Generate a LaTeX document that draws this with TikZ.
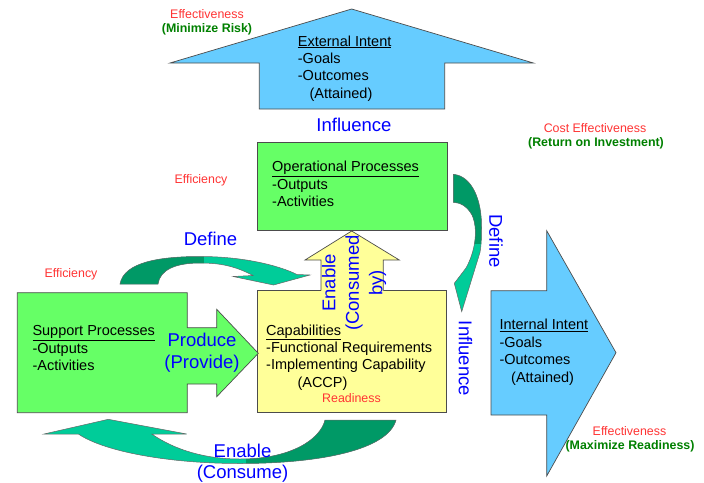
\documentclass[tikz,border=0pt]{standalone}
\usepackage{fontspec}
\setmainfont{Liberation Sans}
\usetikzlibrary{positioning}
\definecolor{intentblue}{HTML}{66CCFF}
\definecolor{procgreen}{HTML}{66FF66}
\definecolor{capyellow}{HTML}{FFFF99}
\definecolor{flowlight}{HTML}{00CC99}
\definecolor{flowdark}{HTML}{009966}
\definecolor{verbblue}{HTML}{0000FF}
\definecolor{measred}{HTML}{FF3333}
\definecolor{measgreen}{HTML}{008000}
\tikzstyle{blockshape} = [draw=black!70, line width=0.7pt, line join=miter]
\tikzstyle{flowarrow} = [fill=flowlight, draw=black!60, line width=0.5pt]
\tikzstyle{bodytext} = [font=\fontsize{14.5}{17.4}\selectfont, align=left, anchor=base west, inner sep=0pt]
\tikzstyle{verblabel} = [font=\fontsize{18.5}{21.5}\selectfont, text=verbblue, align=center, inner sep=0pt]
\tikzstyle{costlabel} = [font=\fontsize{12.4}{14}\selectfont, text=measred, anchor=base, inner sep=0pt]
\tikzstyle{aimlabel} = [font=\bfseries\fontsize{12.4}{14}\selectfont, text=measgreen, anchor=base, inner sep=0pt]

\begin{document}
\begin{tikzpicture}[x=1pt, y=-1pt]
        \useasboundingbox (0,0) rectangle (704,482);

        % External intent (up arrow)
        \draw [blockshape, fill=intentblue] (259.3,109) -- (259.3,63) -- (170,63) -- (351.7,9) -- (533.4,63) -- (444.7,63) -- (444.7,109) -- cycle;

        % Operational processes
        \draw [blockshape, fill=procgreen] (257.3,142.7) rectangle (447.3,230);

        % Capabilities and the enable arrow on top of it
        \draw [blockshape, fill=capyellow] (257.3,290.7) rectangle (446.7,412.7);
        \fill [capyellow] (321,292) -- (321,260) -- (305,260) -- (351.7,231) -- (399.3,260) -- (383.3,260) -- (383.3,292) -- cycle;
        \draw [blockshape] (321,290.7) -- (321,260) -- (305,260) -- (351.7,231) -- (399.3,260) -- (383.3,260) -- (383.3,290.7);

        % Support processes with produce arrow
        \draw [blockshape, fill=procgreen] (17.3,292.7) -- (187.3,292.7) -- (187.3,327.7) -- (216.7,327.7) -- (216.7,309.3) -- (258.3,353.3) -- (216.7,396.7) -- (216.7,384) -- (187.3,384) -- (187.3,412.7) -- (17.3,412.7) -- cycle;

        % Internal intent (right arrow)
        \draw [blockshape, fill=intentblue] (491,290.7) -- (546.7,290.7) -- (546.7,230.7) -- (616,352.7) -- (546.7,476) -- (546.7,415) -- (491,415) -- cycle;

        % Curved arrows
        \draw [flowarrow, path picture={\fill[flowdark] (0,0) rectangle (204,482);}]
            (120,284) .. controls (124,262) and (160,256.5) .. (200,256.5) .. controls (245,256.5) and (280,266) .. (297,274.5)
            -- (310,275) -- (273.5,285) -- (233,276.5) -- (253,275.5)
            .. controls (235,266) and (220,263) .. (200,263) .. controls (175,263) and (160,270) .. (158,284) -- cycle;
        \draw [flowarrow, path picture={\fill[flowdark] (440,160) rectangle (500,244);}]
            (453.3,174.3) .. controls (472,176) and (482,200) .. (481.5,228) .. controls (481.5,240) and (481,247) .. (480,252.3)
            -- (461.7,311.7) -- (454.3,283.3) -- (466,268)
            .. controls (476,250) and (478,228) .. (472,215) .. controls (467,206) and (460,202.5) .. (453.3,202.3) -- cycle;
        \draw [flowarrow, path picture={\fill[flowdark] (246,400) rectangle (420,482);}]
            (325,420) -- (396,420) .. controls (388,450) and (320,463.5) .. (240,463.5) .. controls (170,463.5) and (105,452) .. (78.3,434)
            -- (44,434) -- (108.3,419.3) -- (186.7,434) -- (151.7,434)
            .. controls (175,450) and (205,459) .. (240,459) .. controls (290,459) and (320,440) .. (325,420) -- cycle;

        % Texts in the shapes (anchored at the baseline of the last line)
        \node (extText) [bodytext] at (297.7,98.3) {\underline{External Intent}\\-Goals\\-Outcomes\\\hspace*{11.6pt}(Attained)};
        \node (opsText) [bodytext] at (272,206.6) {\underline{Operational Processes}\\-Outputs\\-Activities};
        \node (supText) [bodytext] at (32.3,370.6) {\underline{Support Processes}\\-Outputs\\-Activities};
        \node (capText) [bodytext] at (266,387.2) {\underline{Capabilities}\\-Functional Requirements\\-Implementing Capability\\\hspace*{31.3pt}(ACCP)};
        \node (intText) [bodytext] at (499.3,382) {\underline{Internal Intent}\\-Goals\\-Outcomes\\\hspace*{11.7pt}(Attained)};

        % Relations
        \node (influenceTop) [verblabel, anchor=base] at (354,131.7) {Influence};
        \node (defineLeft) [verblabel, anchor=base] at (210.5,245.7) {Define};
        \node (produce) [verblabel, anchor=base] at (202,368) {Produce\\(Provide)};
        \node (enableBottom) [verblabel, anchor=base] at (242.5,478.5) {Enable\\(Consume)};
        \node (defineRight) [verblabel, rotate=-90] at (496,241) {Define};
        \node (influenceRight) [verblabel, rotate=-90] at (465.5,358.5) {Influence};
        \node (enableUp) [verblabel, rotate=90, font=\fontsize{18.5}{23.5}\selectfont] at (354,283) {Enable\\(Consumed\\by)};

        % Measures
        \node (effTop) [costlabel] at (207,18.3) {Effectiveness};
        \node (riskTop) [aimlabel] at (207,32.5) {(Minimize Risk)};
        \node (effcOps) [costlabel] at (201,183) {Efficiency};
        \node (effcSup) [costlabel] at (71,277.3) {Efficiency};
        \node (costEff) [costlabel] at (595,132.7) {Cost Effectiveness};
        \node (roi) [aimlabel] at (596,146.5) {(Return on Investment)};
        \node (readiness) [costlabel] at (351.5,402.7) {Readiness};
        \node (effInt) [costlabel] at (629.5,435) {Effectiveness};
        \node (maxReady) [aimlabel] at (630,449) {(Maximize Readiness)};

    \end{tikzpicture}
\end{document}
